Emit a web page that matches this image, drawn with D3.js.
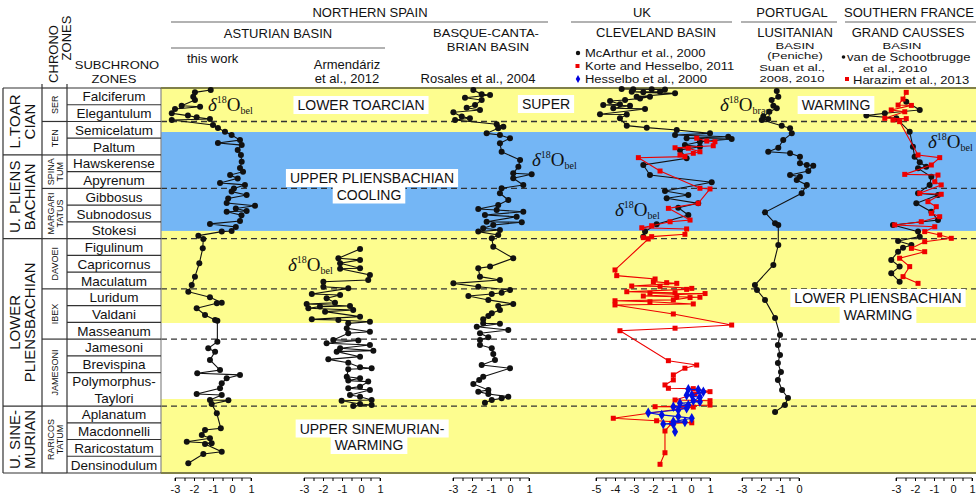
<!DOCTYPE html>
<html><head><meta charset="utf-8">
<script src="https://cdn.jsdelivr.net/npm/d3@7"></script>
<style>
body{margin:0;background:#fff}
svg{display:block}
text{font-family:Arial,"Liberation Sans",sans-serif;fill:#111}
</style>
</head><body>
<svg id="c" width="976" height="495"></svg>
<script>
// ---------------- DATA ----------------
const subchronozones = ["Falciferum","Elegantulum","Semicelatum","Paltum","Hawskerense","Apyrenum","Gibbosus","Subnodosus","Stokesi","Figulinum","Capricornus","Maculatum","Luridum","Valdani","Masseanum","Jamesoni","Brevispina","Polymorphus-|Taylori","Aplanatum","Macdonnelli","Raricostatum","Densinodulum"];
const subchronoSpan = [1,1,1,1,1,1,1,1,1,1,1,1,1,1,1,1,1,2,1,1,1,1];
const zoneNames = [["SER"],["TEN"],["SPINA","TUM"],["MARGARI","TATUS"],["DAVOEI"],["IBEX"],["JAMESONI"],["RARICOS","TATUM"]];
const zoneBounds = [0,2,4,6,9,12,15,19,23];
const stageNames = [["L.TOAR","CIAN"],["U. PLIENS","BACHIAN"],["LOWER","PLIENSBACHIAN"],["U. SINE-","MURIAN"]];
const stageBounds = [0,4,9,19,23];
const dashedLevels = [2,6,9,12,15,19];
const bandEdges = [0,2.63,8.54,14.04,18.58,23];
const bandTypes = ["warm","cool","warm","none","warm"];

// [level (subchronozone units from top), d18O permil]
const thisWork = [[0.12,-1.12],[0.26,-1.95],[0.52,-2.04],[0.72,-1.95],[1.06,-2.65],[1.12,-1.68],[1.25,-3.0],[1.51,-3.17],[1.65,-2.32],[1.75,-1.86],[1.85,-1.16],[1.91,-3.17],[2.21,-1.0],[2.39,-0.74],[2.61,-0.37],[2.81,-0.02],[3.11,0.42],[3.29,-0.74],[3.41,0.51],[3.7,0.3],[4.0,0.47],[4.4,0.51],[4.78,0.42],[5.0,0.58],[5.2,-0.1],[5.4,0.3],[5.67,-0.63],[5.79,0.68],[6.0,0.1],[6.19,-0.02],[6.39,0.77],[6.6,-0.2],[6.87,-0.28],[7.03,1.21],[7.2,0.2],[7.35,0.77],[7.39,-0.28],[7.6,0.5],[7.95,0.42],[8.12,-1.16],[8.3,0.2],[8.54,-0.02],[8.58,-0.54],[8.82,-1.77],[9.02,-1.51],[9.58,-1.54],[10.47,-1.72],[11.27,-1.95],[11.77,-2.12],[12.17,-2.3],[12.5,-1.16],[12.83,-0.54],[12.86,-0.8],[13.16,-1.86],[13.56,-1.42],[13.86,-0.89],[13.9,-0.77],[15.16,-0.77],[15.55,-1.25],[15.75,-0.89],[16.25,-1.16],[16.85,-0.63],[17.04,-1.83],[17.14,0.42],[17.34,-0.28],[17.64,-0.54],[17.94,-0.63],[18.28,-1.86],[18.34,-0.54],[18.64,-1.16],[18.66,-0.19],[18.88,-1.07],[19.43,-0.8],[20.33,-0.59],[20.43,-1.42],[20.73,-1.59],[20.93,-1.16],[21.13,-2.38],[21.22,-1.07],[21.27,-1.42],[21.73,-0.54],[21.86,-1.51],[22.42,-2.3]];
const armendariz = [[9.62,-0.05],[10.17,-1.19],[10.27,-0.05],[10.47,-1.1],[10.77,-0.05],[10.8,-1.1],[11.17,0.47],[11.47,0.38],[11.57,-1.98],[11.87,-1.98],[11.97,-0.67],[12.31,-2.59],[12.37,-1.1],[12.56,-1.81],[12.83,-1.37],[12.9,-2.86],[13.02,-0.58],[13.06,-2.16],[13.16,-2.77],[13.26,-0.41],[13.36,-1.89],[13.66,-0.05],[13.82,-2.59],[13.86,-1.19],[13.96,0.47],[14.06,-0.67],[14.35,-0.75],[14.56,0.47],[14.65,-0.67],[15.05,-1.46],[15.08,-0.14],[15.25,-1.81],[15.35,0.47],[15.55,-1.1],[15.69,0.65],[15.75,-1.28],[16.05,-0.05],[16.21,-1.72],[16.41,-0.67],[16.68,-0.05],[16.74,0.56],[16.8,-0.67],[17.25,-0.75],[17.34,-0.05],[17.48,-0.67],[17.54,0.38],[17.84,-0.05],[17.94,-0.67],[18.04,0.47],[18.34,-0.58],[18.44,-0.05],[18.64,0.56],[18.68,-1.02],[18.88,-0.05],[18.94,0.56],[19.0,-0.41]];
const rosales = [[0.12,-1.93],[0.38,-1.49],[0.42,-1.05],[0.58,-2.37],[0.72,-1.49],[1.02,-1.84],[1.18,-2.28],[1.31,-1.58],[1.45,-2.98],[1.71,-2.54],[1.81,-2.11],[1.91,-2.89],[2.17,-0.7],[2.31,-0.35],[2.41,-0.62],[2.71,-1.23],[2.81,-0.53],[3.0,0],[3.3,-0.53],[3.81,-0.44],[4.3,0.53],[4.7,0.44],[5.1,0.17],[5.15,1.14],[5.39,0.17],[5.79,0.7],[5.99,-0.44],[6.29,-0.53],[6.69,-0.09],[6.99,-0.62],[7.23,-1.67],[7.29,-0.7],[7.39,0.7],[7.59,-1.32],[7.69,0.35],[7.99,-1.23],[8.02,0.62],[8.18,-0.88],[8.38,-1.41],[8.48,-0.53],[8.58,-1.67],[8.78,-0.62],[8.98,-0.96],[9.48,-0.88],[10.17,0.17],[10.67,-1.05],[10.77,-1.67],[11.27,-1.58],[11.47,-0.53],[11.67,-2.98],[11.87,-1.67],[12.07,0],[12.23,-0.44],[12.31,-0.96],[12.43,-2.19],[12.66,-1.14],[12.9,0.17],[13.02,-0.62],[13.26,-0.53],[13.46,-0.96],[13.62,-1.14],[13.82,-1.41],[14.06,-1.41],[14.08,-0.53],[14.26,-1.75],[14.46,-0.09],[14.65,-1.58],[14.89,-1.14],[15.05,-1.58],[15.35,-1.58],[15.55,-0.96],[15.89,-0.88],[16.25,-0.79],[16.55,-1.49],[16.74,0],[17.25,-1.41],[17.44,-1.62],[17.68,-1.93],[18.04,-1.14],[18.14,-1.67],[18.28,-1.14],[18.44,-0.09],[18.54,-0.44],[18.64,-0.96],[18.8,-1.32]];
const mcarthur = [[0.06,-3.65],[0.07,-3.04],[0.08,-2.07],[0.09,-1.37],[0.22,-1.63],[0.22,-3.12],[0.26,-2.51],[0.32,-0.84],[0.52,-2.86],[0.52,-2.16],[0.62,-2.68],[0.72,-3.47],[0.78,-4.26],[0.97,-3.74],[1.02,-4.62],[1.06,-3.21],[1.21,-4.09],[1.25,-2.42],[1.57,-4.79],[1.58,-3.38],[1.81,-3.74],[2.25,-3.38],[2.37,-2.33],[2.51,-0.75],[2.71,1.0],[2.81,-0.84],[2.91,1.96],[3.0,-0.23],[3.05,2.14],[3.21,0.47],[3.41,-0.32],[3.51,0.47],[3.7,-0.58],[4.2,-0.23],[4.6,-2.51],[5.2,-2.16],[5.63,1.09],[6.15,-1.37],[6.39,-0.14],[6.59,-1.28],[6.89,0.38],[7.15,-0.67],[7.59,-0.14],[8.14,-1.81],[8.58,-2.42],[8.88,-2.51]];
const korte = [[3.0,0.3],[3.17,0.83],[3.21,1.26],[3.45,1.17],[3.57,-0.84],[3.6,-0.14],[3.81,0.47],[3.9,0.12],[4.0,-0.58],[4.1,-0.32],[4.16,-2.77],[4.96,-1.63],[5.99,0.47],[6.03,1.0],[6.89,0.38],[7.19,-1.19],[7.89,-0.05],[7.99,-1.1],[8.23,-2.07],[8.35,-2.59],[8.42,-0.23],[8.74,-0.32],[8.88,-2.07],[8.94,-2.51],[9.02,-2.25],[10.87,-4.0],[11.21,-3.91],[11.41,-1.89],[11.57,-1.98],[11.63,-1.28],[11.67,-0.75],[11.83,-3.12],[11.85,-1.63],[11.97,0.04],[12.03,-0.23],[12.17,-3.38],[12.23,-0.84],[12.26,-2.16],[12.28,0.74],[12.43,-2.51],[12.47,-0.75],[12.5,0.47],[12.52,-0.05],[12.66,-0.93],[12.71,-4.0],[12.77,-2.16],[12.9,0.12],[12.96,-4.0],[13.5,-0.93],[14.16,2.14],[14.35,-0.84],[14.5,-3.74],[16.29,-1.19],[16.55,0.3],[16.74,-0.32],[17.14,-0.93],[17.44,-0.93],[17.74,-1.37],[17.94,-1.19],[17.96,0.12],[18.14,1.0],[18.28,0.21],[18.64,-0.84],[18.68,1.0],[18.94,1.0],[19.04,-1.89],[19.06,0.12],[19.73,-4.09],[19.88,-1.81],[20.0,0.04],[20.03,-1.02],[20.49,-1.37],[21.79,-1.37],[22.48,-1.63]];
const hesselbo = [[18.0,-0.14],[18.02,0.38],[18.14,0.65],[18.34,0.04],[18.36,-0.23],[18.48,0.47],[18.68,0.12],[18.74,0.47],[18.83,-0.58],[18.94,-0.14],[19.04,-0.93],[19.13,-0.23],[19.24,-0.67],[19.4,-2.25],[19.53,-1.54],[19.63,-0.67],[19.73,0.04],[19.93,-0.93],[19.95,-0.32],[20.07,-1.46],[20.09,-0.93],[20.53,-0.84]];
const suan = [[0.18,-1.17],[0.52,-1.09],[0.72,-1.44],[1.06,-1.35],[1.21,-1.17],[1.42,-1.56],[1.71,-1.88],[1.85,-1.62],[1.91,-1.96],[2.25,-0.91],[2.41,-0.47],[2.71,-0.38],[3.11,-0.83],[3.57,-1.09],[3.81,-1.62],[3.9,-0.47],[4.1,0.05],[4.5,0.05],[4.6,0.41],[4.64,0.75],[4.96,0.49],[5.2,-0.47],[5.3,0.05],[5.5,-0.12],[5.79,0.41],[6.29,0.14],[7.43,-1.79],[8.08,-1.26],[8.18,-1.09],[9.38,-1.09],[10.57,-1.35],[11.77,-2.32],[12.07,-2.21],[12.66,-1.79],[13.74,-1.26],[14.75,-1.0],[15.35,-1.11],[15.95,-1.0],[16.43,-1.11],[16.97,-0.95],[17.44,-1.11],[18.04,-0.89],[18.52,-0.58],[18.94,-0.74],[19.35,-1.26]];
const schootbrugge = [[0.82,-2.46],[1.31,-1.75],[1.51,-3.59],[1.65,-4.56],[1.81,-2.98],[2.61,-2.28],[3.51,-2.11],[4.1,-2.02],[4.44,-1.75],[4.7,-1.41],[4.8,-1.84],[5.3,-1.14],[5.79,-1.23],[6.29,-1.84],[6.39,-0.79],[6.89,-1.93],[7.39,-1.14],[7.89,-0.79],[8.18,-3.16],[8.58,-1.84],[8.88,-1.75],[9.14,-2.89],[9.38,-2.19],[9.54,-2.63],[9.78,-2.89],[10.27,-3.25],[10.67,-2.81],[11.07,-3.25],[11.57,-2.81]];
const harazim = [[0.26,-2.46],[0.66,-2.63],[1.02,-2.89],[1.04,-2.19],[1.31,-3.25],[1.42,-2.54],[1.81,-3.59],[1.83,-2.46],[1.91,-3.16],[2.01,-2.81],[4.0,-1.84],[4.16,-0.7],[4.6,-1.14],[5.16,-2.54],[5.2,-0.79],[5.6,-0.96],[5.79,-0.62],[6.29,-1.75],[6.35,-0.62],[6.79,-1.32],[7.09,-0.88],[7.49,-1.14],[7.69,-0.7],[7.99,-1.67],[8.18,-3.07],[8.29,-0.96],[8.58,-1.49],[8.78,-0.7],[8.98,-0.09],[9.18,-1.49],[9.58,-2.19],[9.78,-1.49],[10.17,-2.81],[10.67,-2.28],[11.27,-2.63],[11.67,-1.84]];

const axisTicks = [[-3,-2,-1,0,1],[-3,-2,-1,0,1],[-3,-2,-1,0,1],[-5,-4,-3,-2,-1,0,1],[-3,-2,-1,0],[-3,-2,-1,0,1]];

// ---------------- LAYOUT ----------------
const svg = d3.select("#c");
const plotL = 161, plotR = 976, yTop = 88, yBot = 473;
const y = d3.scaleLinear().domain([0,23]).range([yTop,yBot]);
const colors = {warm:"#fdfd8f", cool:"#74b6f5", none:"#ffffff"};
const unitPx = 19;
const colZero = [232,361,510,691,799,953];
const xs = axisTicks.map((t,i)=>d3.scaleLinear().domain([0,1]).range([colZero[i], colZero[i]+unitPx]));

svg.append("g").selectAll("rect").data(bandTypes).join("rect")
  .attr("x",plotL).attr("width",plotR-plotL)
  .attr("y",(d,i)=>y(bandEdges[i])).attr("height",(d,i)=>y(bandEdges[i+1])-y(bandEdges[i]))
  .attr("fill",d=>colors[d]);

svg.append("g").selectAll("line").data(dashedLevels).join("line")
  .attr("x1",plotL).attr("x2",plotR).attr("y1",d=>y(d)).attr("y2",d=>y(d))
  .attr("stroke","#333").attr("stroke-width",1.3).attr("stroke-dasharray","6,4");

const tg = svg.append("g").attr("stroke","#333").attr("stroke-width",1.2);
const xT0=3, xT1=42, xT2=67;
[xT0,xT1,xT2,plotL].forEach(x=>tg.append("line").attr("x1",x).attr("x2",x).attr("y1",yTop).attr("y2",yBot).attr("stroke",x===plotL?"#888":"#333"));
[xT1,xT2].forEach(x=>tg.append("line").attr("x1",x).attr("x2",x).attr("y1",yTop-4).attr("y2",yTop));
let acc=0; const subBounds=[0];
subchronoSpan.forEach(s=>{acc+=s;subBounds.push(acc);});
subBounds.forEach(l=>tg.append("line").attr("x1",xT2).attr("x2",plotL).attr("y1",y(l)).attr("y2",y(l)));
zoneBounds.forEach(l=>tg.append("line").attr("x1",xT1).attr("x2",xT2).attr("y1",y(l)).attr("y2",y(l)));
stageBounds.forEach(l=>tg.append("line").attr("x1",xT0).attr("x2",xT1).attr("y1",y(l)).attr("y2",y(l)));
[yTop,yBot].forEach(v=>svg.append("line").attr("x1",plotL).attr("x2",plotR).attr("y1",v).attr("y2",v).attr("stroke","#80804a").attr("stroke-width",2));

subchronozones.forEach((n,i)=>{
  const parts=n.split("|");
  const a=subBounds[i], b=subBounds[i+1];
  parts.forEach((p,j)=>{
    const mid = parts.length===1 ? (a+b)/2 : a+j+0.5;
    svg.append("text").attr("x",114).attr("y",y(mid)+5).attr("text-anchor","middle").style("font-size","13.5px").text(p);
  });
});
zoneNames.forEach((lines,i)=>{
  const cy=(y(zoneBounds[i])+y(zoneBounds[i+1]))/2;
  const bx = lines.length===1 ? 58 : 53.5;
  const t=svg.append("text").attr("transform",`translate(${bx},${cy}) rotate(-90)`).attr("text-anchor","middle").style("font-size","9px");
  lines.forEach((l,j)=>t.append("tspan").attr("x",0).attr("y",j*9).text(l));
});
stageNames.forEach((lines,i)=>{
  const cy=(y(stageBounds[i])+y(stageBounds[i+1]))/2;
  const t=svg.append("text").attr("transform",`translate(20,${cy}) rotate(-90)`).attr("text-anchor","middle").style("font-size","15px");
  lines.forEach((l,j)=>t.append("tspan").attr("x",0).attr("y",j*15).text(l));
});

// ---------------- HEADER ----------------
function txt(x,yy,s,anchor="middle",sy=1,size=13){
  return svg.append("text").attr("transform",`translate(${x},${yy}) scale(1,${sy})`).attr("text-anchor",anchor).style("font-size",size+"px").text(s);
}
function hline(x1,x2,yy){svg.append("line").attr("x1",x1).attr("x2",x2).attr("y1",yy).attr("y2",yy).attr("stroke","#666").attr("stroke-width",1.2);}
svg.append("text").attr("transform","translate(58,54) rotate(-90)").attr("text-anchor","middle").style("font-size","13px").text("CHRONO");
svg.append("text").attr("transform","translate(71,38) rotate(-90)").attr("text-anchor","middle").style("font-size","13px").text("ZONES");
txt(117,69,"SUBCHRONO","middle",0.88); txt(114,83,"ZONES","middle",0.88);
txt(370,17,"NORTHERN SPAIN"); hline(171,548,22);
txt(278,38,"ASTURIAN BASIN"); hline(171,385,48);
txt(187,63,"this work","start");
txt(347,69,"Armendáriz"); txt(347,83,"et al., 2012");
txt(486,37,"BASQUE-CANTA-","middle",0.88); txt(488,51,"BRIAN BASIN","middle",0.88); txt(478,83,"Rosales et al., 2004");
txt(642,17,"UK"); hline(571,732,22);
txt(656,37,"CLEVELAND BASIN");
svg.append("circle").attr("cx",578).attr("cy",53).attr("r",2.2).attr("fill","#111");
txt(585,57,"McArthur et al., 2000","start",0.85);
svg.append("rect").attr("x",575.5).attr("y",64).attr("width",4).attr("height",4).attr("fill","#e00");
txt(585,70,"Korte and Hesselbo, 2011","start",0.85);
svg.append("path").attr("d",d3.symbol(d3.symbolDiamond).size(18)()).attr("transform","translate(578,79)").attr("fill","#00d");
txt(585,83,"Hesselbo et al., 2000","start",0.85);
txt(792,17,"PORTUGAL"); hline(741,837,22);
txt(795,37,"LUSITANIAN"); txt(795,48.5,"BASIN","middle",0.72); txt(795,59.2,"(Peniche)","middle",0.72); txt(792,70.5,"Suan et al.,","middle",0.72); txt(792,82,"2008, 2010","middle",0.72);
txt(909,17,"SOUTHERN FRANCE"); hline(845,976,22);
txt(908,37,"GRAND CAUSSES"); txt(902,48.5,"BASIN","middle",0.72);
svg.append("circle").attr("cx",843.5).attr("cy",57).attr("r",1.8).attr("fill","#111");
txt(847,60.5,"van de Schootbrugge","start",0.78); txt(895,71.5,"et al., 2010","middle",0.72);
svg.append("rect").attr("x",845).attr("y",77).attr("width",4).attr("height",4).attr("fill","#e00");
txt(853,83.5,"Harazim et al., 2013","start",0.8);

// ---------------- SERIES ----------------
function drawSeries(data,xs,color,shape){
  const g=svg.append("g");
  const line=d3.line().x(d=>xs(d[1])).y(d=>y(d[0]));
  g.append("path").attr("d",line(data)).attr("fill","none").attr("stroke",color).attr("stroke-width",1.1);
  if(shape==="circle"){
    g.selectAll("circle").data(data).join("circle").attr("cx",d=>xs(d[1])).attr("cy",d=>y(d[0])).attr("r",3).attr("fill",color);
  } else if(shape==="square"){
    g.selectAll("rect").data(data).join("rect").attr("x",d=>xs(d[1])-2.5).attr("y",d=>y(d[0])-2.5).attr("width",5).attr("height",5).attr("fill",color);
  } else {
    const p=d3.symbol(d3.symbolDiamond).size(32)();
    g.selectAll("path.m").data(data).join("path").attr("class","m").attr("d",p).attr("transform",d=>`translate(${xs(d[1])},${y(d[0])})`).attr("fill",color);
  }
}
drawSeries(thisWork,xs[0],"#111","circle");
drawSeries(armendariz,xs[1],"#111","circle");
drawSeries(rosales,xs[2],"#111","circle");
drawSeries(mcarthur,xs[3],"#111","circle");
drawSeries(korte,xs[3],"#ee0000","square");
drawSeries(hesselbo,xs[3],"#0010e0","diamond");
drawSeries(suan,xs[4],"#111","circle");
drawSeries(schootbrugge,xs[5],"#111","circle");
drawSeries(harazim,xs[5],"#ee0000","square");

// ---------------- AXES ----------------
axisTicks.forEach((t,i)=>{
  const lo=d3.min(t), hi=d3.max(t);
  const halves=d3.range(lo,hi+0.01,0.5);
  const ax=d3.axisBottom(xs[i]).tickValues(halves).tickSize(3).tickFormat(v=>Number.isInteger(v)?v:"");
  const g=svg.append("g").attr("transform","translate(0,478)").call(ax);
  g.select(".domain").attr("d",`M${xs[i](lo)},3V0H${xs[i](hi)}V3`).attr("stroke","#333");
  g.selectAll("text").style("font-size","11px").attr("y",7).style("font-family","Arial");
});

// ---------------- ANNOTATIONS ----------------
function delta(x,yy,sub){
  const t=svg.append("text").attr("x",x).attr("y",yy).style("font-family","'Liberation Serif','DejaVu Serif',serif").style("font-size","19px");
  t.append("tspan").style("font-style","italic").text("δ");
  t.append("tspan").attr("dy",-8).style("font-size","10px").text("18");
  t.append("tspan").attr("dy",8).text("O");
  t.append("tspan").attr("dy",3).style("font-size","10px").text(sub);
}
delta(208,111,"bel");
delta(288,271,"bel");
delta(532,166,"bel");
delta(615,216,"bel");
delta(720,111,"braq");
delta(928,148,"bel");

function boxed(x,yy,s){
  const t=svg.append("text").attr("x",x).attr("y",yy).attr("text-anchor","middle").style("font-size","14px").text(s);
  const b=t.node().getBBox();
  svg.insert("rect",()=>t.node()).attr("x",b.x-4).attr("y",yy-14).attr("width",b.width+8).attr("height",18).attr("fill","#fff");
}
boxed(361,110,"LOWER TOARCIAN");
boxed(546,109,"SUPER");
boxed(836,110,"WARMING");
boxed(372,183,"UPPER PLIENSBACHIAN");
boxed(369,199.5,"COOLING");
boxed(878,303,"LOWER PLIENSBACHIAN");
boxed(878,320,"WARMING");
boxed(372,433.5,"UPPER SINEMURIAN-");
boxed(369,450,"WARMING");
</script>
</body></html>
